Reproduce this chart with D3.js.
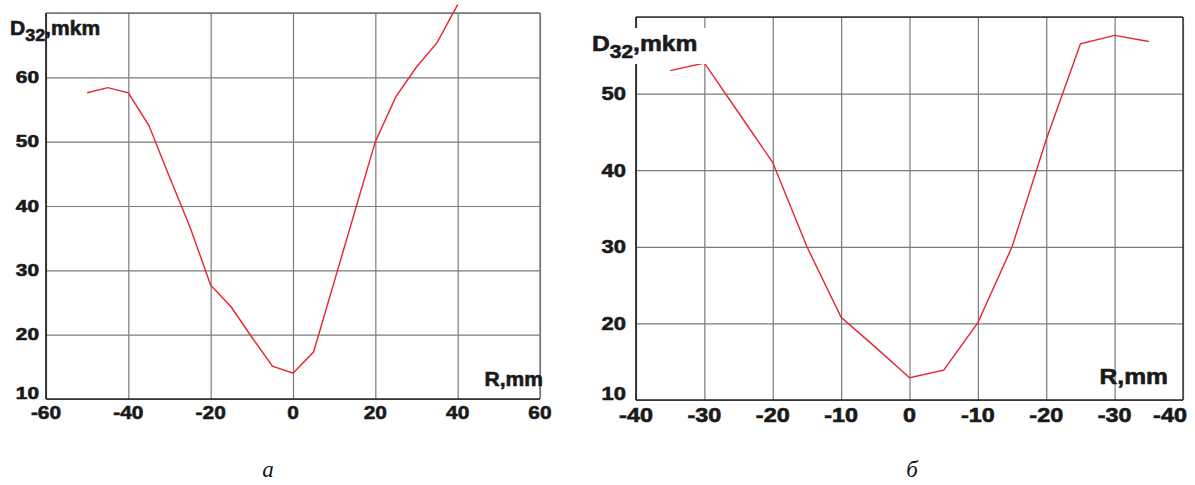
<!DOCTYPE html>
<html>
<head>
<meta charset="utf-8">
<script src="https://cdn.jsdelivr.net/npm/d3@7.9.0/dist/d3.min.js"></script>
<style>
  html, body { margin: 0; padding: 0; background: #fff; }
  svg { display: block; }
</style>
</head>
<body>
<svg id="chart" width="1195" height="485"></svg>
<script>
// panel "а"
const radiusA = [-50, -45, -40, -35, -30, -25, -20, -15, -10, -5, 0, 5, 10, 15, 20, 25, 30, 35, 40];
const d32A = [57.6, 58.4, 57.6, 52.5, 44.5, 36.7, 27.7, 24.3, 19.6, 15.1, 14.0, 17.3, 28.2, 39.1, 50.0, 57.0, 61.6, 65.4, 71.3];
const xTicksA = [-60, -40, -20, 0, 20, 40, 60];
const xLabelsA = ["-60", "-40", "-20", "0", "20", "40", "60"];
const yTicksA = [10, 20, 30, 40, 50, 60];

// panel "б"
const radiusB = [-35, -30, -25, -20, -15, -10, -5, 0, 5, 10, 15, 20, 25, 30, 35];
const d32B = [53.0, 54.0, 47.5, 41.0, 30.0, 20.8, 16.9, 12.9, 13.9, 20.1, 30.0, 44.0, 56.5, 57.6, 56.8];
const xTicksB = [-40, -30, -20, -10, 0, 10, 20, 30, 40];
const xLabelsB = ["-40", "-30", "-20", "-10", "0", "-10", "-20", "-30", "-40"];
const yTicksB = [10, 20, 30, 40, 50];

const svg = d3.select("#chart");
const FONT = "'Liberation Sans', Arial, sans-serif";

// text with a horizontal stretch, the scan's digits are wide
function stretchedText(g, x, y, txt, size, sx, anchor) {
  g.append("g")
    .attr("transform", `translate(${x},${y}) scale(${sx},1)`)
    .append("text")
    .attr("text-anchor", anchor)
    .attr("dy", "0.36em")
    .attr("font-family", FONT)
    .attr("font-weight", "bold")
    .attr("font-size", size)
    .attr("fill", "#1a1a1a")
    .attr("stroke", "#1a1a1a")
    .attr("stroke-width", 0.6)
    .text(txt);
}

function drawPanel(p) {
  const g = svg.append("g");
  const x = d3.scaleLinear().domain(p.xDomain).range([p.left, p.right]);
  const y = d3.scaleLinear().domain(p.yDomain).range([p.bottom, p.top]);

  // vertical grid
  g.append("g")
    .attr("transform", `translate(0,${p.bottom})`)
    .call(d3.axisBottom(x).tickValues(p.xTicks).tickSize(-(p.bottom - p.top)).tickFormat(""))
    .call(a => a.select(".domain").remove())
    .call(a => a.selectAll("line").attr("stroke", "#7a7a7a").attr("stroke-width", 1.2));

  // horizontal grid
  g.append("g")
    .attr("transform", `translate(${p.left},0)`)
    .call(d3.axisLeft(y).tickValues(p.yTicks.concat([p.yDomain[1]])).tickSize(-(p.right - p.left)).tickFormat(""))
    .call(a => a.select(".domain").remove())
    .call(a => a.selectAll("line").attr("stroke", "#7a7a7a").attr("stroke-width", 1.2));

  // frame
  g.append("line").attr("x1", p.right).attr("x2", p.right).attr("y1", p.top).attr("y2", p.bottom)
    .attr("stroke", p.frameColor).attr("stroke-width", 1.4);
  g.append("line").attr("x1", p.left).attr("x2", p.right).attr("y1", p.top).attr("y2", p.top)
    .attr("stroke", p.frameColor).attr("stroke-width", 1.4);
  g.append("line").attr("x1", p.left).attr("x2", p.left).attr("y1", p.top).attr("y2", p.bottom)
    .attr("stroke", "#222").attr("stroke-width", 1.7);
  g.append("line").attr("x1", p.left).attr("x2", p.right).attr("y1", p.bottom).attr("y2", p.bottom)
    .attr("stroke", "#222").attr("stroke-width", 1.7);

  // the curve
  const line = d3.line().x((d, i) => x(p.r[i])).y(d => y(d));
  g.append("path")
    .attr("d", line(p.d))
    .attr("fill", "none")
    .attr("stroke", "#e3262d")
    .attr("stroke-width", 1.4);

  // tick labels
  p.xTicks.forEach((t, i) => {
    const shift = i === p.xTicks.length - 1 ? p.lastShift : 0;
    stretchedText(g, x(t) + shift, p.bottom + p.xLabelDy, p.xLabels[i], p.xFont, p.xStretch, "middle");
  });
  p.yTicks.forEach((t, i) => {
    const dy = i === 0 ? -6 : 0;
    stretchedText(g, p.left - p.yLabelDx, y(t) + dy, String(t), p.yFont, p.yStretch, "end");
  });

  // axis titles
  if (p.titleBox) {
    g.append("rect").attr("x", p.titleBox[0]).attr("y", p.titleBox[1])
      .attr("width", p.titleBox[2]).attr("height", p.titleBox[3]).attr("fill", "#fff");
  }
  const t = g.append("g")
    .attr("transform", `translate(${p.titleX},${p.titleY}) scale(${p.titleStretch},1)`)
    .append("text")
    .attr("font-family", FONT).attr("font-weight", "bold")
    .attr("font-size", p.titleFont).attr("fill", "#1a1a1a")
    .attr("stroke", "#1a1a1a").attr("stroke-width", 0.6);
  t.append("tspan").text("D");
  t.append("tspan").attr("dy", p.subDy).attr("font-size", p.titleFont * 0.85).text("32");
  t.append("tspan").attr("dy", -p.subDy).text(",mkm");

  stretchedText(g, p.rTitleX, p.rTitleY, "R,mm", p.rFont, p.rStretch, "end");

  // caption
  svg.append("text")
    .attr("x", p.captionX).attr("y", 477)
    .attr("text-anchor", "middle")
    .attr("font-family", "'Liberation Serif', 'Times New Roman', serif")
    .attr("font-style", "italic")
    .attr("font-size", 23)
    .attr("fill", "#111")
    .text(p.caption);
}

drawPanel({
  r: radiusA, d: d32A,
  xDomain: [-60, 60], yDomain: [10, 70],
  left: 46, right: 540, top: 13, bottom: 399,
  xTicks: xTicksA, xLabels: xLabelsA, yTicks: yTicksA,
  frameColor: "#777",
  xFont: 19, xStretch: 1.1, xLabelDy: 13, lastShift: 0,
  yFont: 16, yStretch: 1.3, yLabelDx: 7,
  titleX: 10, titleY: 35, titleFont: 19.5, titleStretch: 1.08, subDy: 6,
  rTitleX: 543, rTitleY: 379, rFont: 19.5, rStretch: 1.08,
  captionX: 268, caption: "а"
});

drawPanel({
  r: radiusB, d: d32B,
  xDomain: [-40, 40], yDomain: [10, 60],
  left: 636, right: 1183, top: 17, bottom: 400,
  xTicks: xTicksB, xLabels: xLabelsB, yTicks: yTicksB,
  frameColor: "#333",
  xFont: 19.5, xStretch: 1.2, xLabelDy: 15, lastShift: -13,
  yFont: 18, yStretch: 1.22, yLabelDx: 10,
  titleX: 592, titleY: 51, titleFont: 22, titleStretch: 1.12, subDy: 7,
  titleBox: [588, 28, 120, 36],
  rTitleX: 1168, rTitleY: 376, rFont: 22, rStretch: 1.12,
  captionX: 912, caption: "б"
});
</script>
</body>
</html>
